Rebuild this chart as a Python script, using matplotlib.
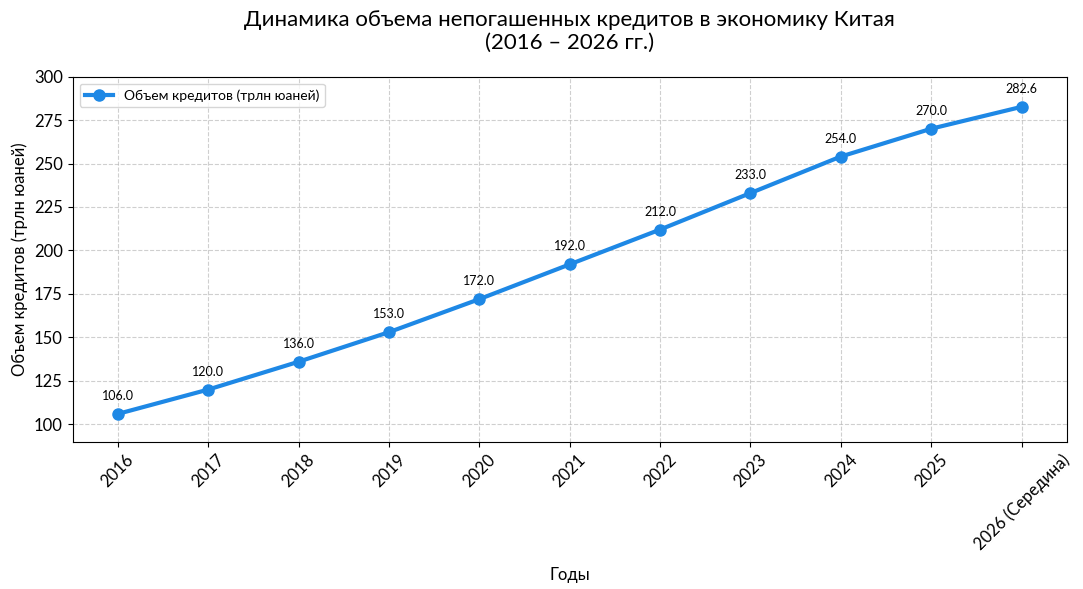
import matplotlib
matplotlib.use('Agg')
import matplotlib.pyplot as plt

plt.rcParams['font.family'] = ['Lato', 'DejaVu Sans']

# data
years = ['2016', '2017', '2018', '2019', '2020', '2021', '2022', '2023', '2024', '2025', '2026 (Середина)']
loans = [106.0, 120.0, 136.0, 153.0, 172.0, 192.0, 212.0, 233.0, 254.0, 270.0, 282.6]

fig, ax = plt.subplots(figsize=(10.83, 5.89), dpi=100)

x = list(range(len(years)))
ax.plot(x, loans, color='#1E88E5', linewidth=3, marker='o', markersize=8,
        label='Объем кредитов (трлн юаней)')

for xi, v in zip(x, loans):
    ax.annotate('{:.1f}'.format(v), (xi, v), textcoords='offset points', xytext=(0, 10),
                ha='center', fontsize=9)

ax.set_xticks(x)
ax.set_xticklabels(years, rotation=45, fontsize=12)
ax.tick_params(axis='y', labelsize=12)
ax.set_ylim(90, 300)
ax.set_xlim(-0.5, 10.5)
ax.grid(True, linestyle='--', alpha=0.6)

ax.set_title('Динамика объема непогашенных кредитов в экономику Китая\n(2016 – 2026 гг.)',
             fontsize=16, pad=20)
ax.set_xlabel('Годы', fontsize=12, labelpad=10)
ax.set_ylabel('Объем кредитов (трлн юаней)', fontsize=12)
ax.legend(loc='upper left', fontsize=10)

fig.subplots_adjust(left=0.067, right=0.985, top=0.87, bottom=0.25)
fig.savefig('out.png', dpi=100)
